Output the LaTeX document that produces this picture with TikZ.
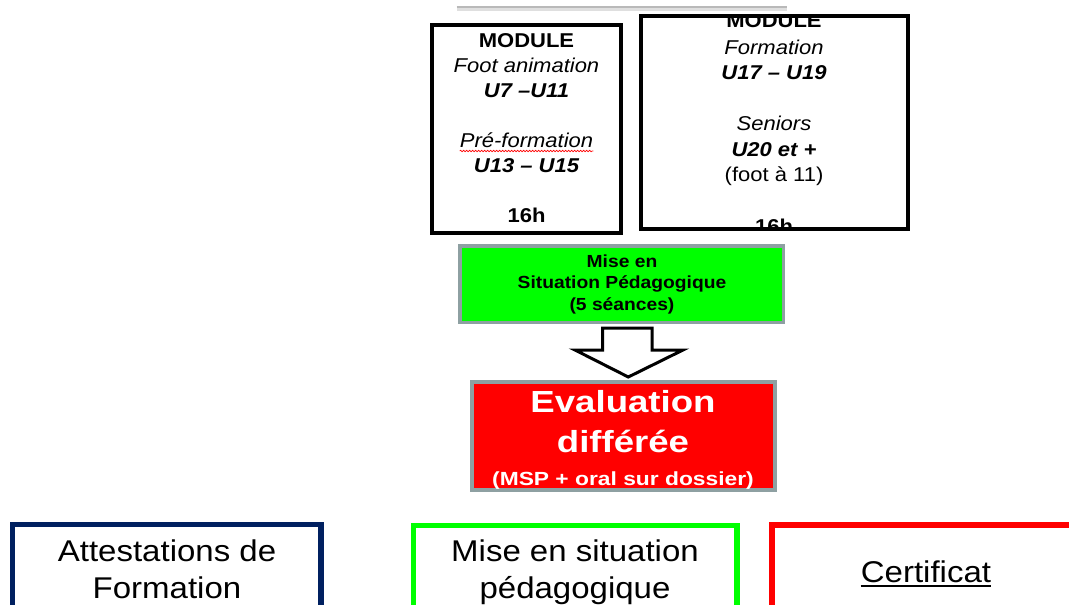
\documentclass[tikz,border=0pt]{standalone}
\usepackage{fontspec}
\setmainfont{Liberation Sans}
\newfontfamily\fa[FakeStretch=1.1]{Liberation Sans}
\newfontfamily\fb[FakeStretch=1.1]{Liberation Sans}
\newfontfamily\fc[FakeStretch=1.2]{Liberation Sans}
\newcommand\myTopFont{\fa\fontsize{20}{24}\selectfont}
\usetikzlibrary{decorations.pathmorphing}
\definecolor{mylime}{RGB}{0,255,0}
\definecolor{myred}{RGB}{255,0,0}
\definecolor{mynavy}{RGB}{0,32,96}
\definecolor{myframe}{RGB}{142,160,162}
\tikzset{
  txt/.style={inner sep=0pt, anchor=base},
  modbox/.style={draw=black, line width=4pt, inner sep=0pt},
  colbox/.style={draw=myframe, line width=3.5pt, inner sep=0pt},
  outbox/.style={line width=5.5pt, inner sep=0pt, fill=white},
  greenf/.style={font=\fa\fontsize{17.5}{21}\selectfont\bfseries},
  botf/.style={font=\fb\fontsize{30}{36}\selectfont},
}
\begin{document}
\begin{tikzpicture}[x=1pt,y=-1pt]
\useasboundingbox (0,0) rectangle (1069,605);
\clip (0,0) rectangle (1069,605);
% top grey line with shadow
\draw[gray!25, line width=4pt] (456.7,8.5) -- (786.7,8.5);
\draw[gray!55, line width=1.5pt] (456.7,7) -- (786.7,7);
% module boxes
\node[modbox, minimum width=189pt, minimum height=207.2pt] (box1) at (526.5,128.9) {};
\node[modbox, minimum width=267pt, minimum height=213pt] (box2) at (774,122.5) {};
% box1 text
\node[txt, font=\myTopFont\bfseries] (b1a) at (526.5,47) {MODULE};
\node[txt, font=\myTopFont\itshape] (b1b) at (526.5,72) {Foot animation};
\node[txt, font=\myTopFont\bfseries\itshape] (b1c) at (526.5,97) {U7 –U11};
\node[txt, font=\myTopFont\itshape] (b1d) at (526.5,147) {Pré-formation};
\node[txt, font=\myTopFont\bfseries\itshape] (b1e) at (526.5,172.5) {U13 – U15};
\node[txt, font=\myTopFont\bfseries] (b1f) at (526.5,222.5) {16h};
\draw[myred, line width=0.6pt, decorate, decoration={snake, amplitude=0.8pt, segment length=3pt}]
  ([yshift=-4pt]b1d.base west) -- ([yshift=-4pt]b1d.base east);
% box2 text (clipped by the frame)
\begin{scope}
\clip (642.5,18) rectangle (905.5,227);
\node[txt, font=\myTopFont\bfseries] (b2a) at (774,27.5) {MODULE};
\node[txt, font=\myTopFont\itshape] (b2b) at (774,54) {Formation};
\node[txt, font=\myTopFont\bfseries\itshape] (b2c) at (774,79.5) {U17 – U19};
\node[txt, font=\myTopFont\itshape] (b2d) at (774,130.5) {Seniors};
\node[txt, font=\myTopFont\bfseries\itshape] (b2e) at (774,156) {U20 et +};
\node[txt, font=\myTopFont] (b2f) at (774,181.5) {(foot à 11)};
\node[txt, font=\myTopFont\bfseries] (b2g) at (774,233) {16h};
\end{scope}
% green box
\node[colbox, fill=mylime, minimum width=323.5pt, minimum height=76.5pt] (msp) at (621.75,284.25) {};
\node[txt, greenf] (g1) at (622,267) {Mise en};
\node[txt, greenf] (g2) at (622,288.5) {Situation Pédagogique};
\node[txt, greenf] (g3) at (622,310) {(5 séances)};
% block arrow
\coordinate (aTL) at (602.5,328);
\coordinate (aTR) at (652,328);
\coordinate (aTip) at (628.3,377);
\draw[line width=3pt, fill=white, line join=miter]
  (aTL) -- (aTR) -- (aTR |- 0,350) -- (683,350) -- (aTip) -- (575,350) -- (aTL |- 0,350) -- cycle;
% red box
\node[colbox, fill=myred, minimum width=303pt, minimum height=108pt] (eval) at (623.5,436) {};
\node[txt, text=white, font=\fc\fontsize{30.5}{36}\selectfont\bfseries] (r1) at (623,412.5) {Evaluation};
\node[txt, text=white, font=\fc\fontsize{30.5}{36}\selectfont\bfseries] (r2) at (623,452) {différée};
\node[txt, text=white, font=\fc\fontsize{19}{23}\selectfont\bfseries] (r3) at (623,485) {(MSP + oral sur dossier)};
% bottom boxes
\node[outbox, draw=mynavy, minimum width=308.5pt, minimum height=135.5pt] (att) at (166.75,592.25) {};
\node[outbox, draw=mylime, minimum width=323.5pt, minimum height=134.5pt] (mes) at (575.25,592.75) {};
\node[outbox, draw=myred, minimum width=428pt, minimum height=135pt] (cer) at (986,592.5) {};
\node[txt, botf] (t1) at (167,561) {Attestations de};
\node[txt, botf] (t2) at (167,598.5) {Formation};
\node[txt, botf] (t3) at (575,561) {Mise en situation};
\node[txt, botf] (t4) at (575,598.5) {pédagogique};
\node[txt, botf] (t5) at (926,582) {Certificat};
\draw[line width=2pt] ([yshift=-3.7pt]t5.base west) -- ([yshift=-3.7pt]t5.base east);
\end{tikzpicture}
\end{document}
